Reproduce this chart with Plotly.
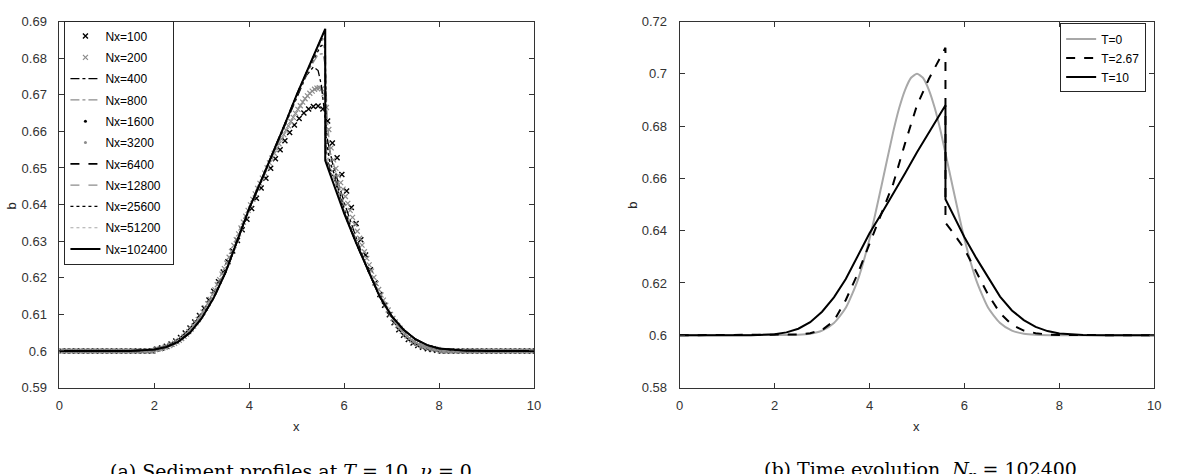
import plotly.graph_objects as go

W, H = 1191, 474

# ---------------- Left panel: sediment profiles at T=10 ----------------
# Nx=100 (cell centres) and its values
x100 = [round(0.05 + 0.1 * i, 3) for i in range(100)]
b100 = [0.6] * 20 + [
    0.6005, 0.6008, 0.6013, 0.6019, 0.6027, 0.6037, 0.6049, 0.6063, 0.6079, 0.6097,
    0.6117, 0.6139, 0.6163, 0.6189, 0.6216, 0.6244, 0.6273, 0.6302, 0.6331, 0.6360,
    0.6389, 0.6417, 0.6445, 0.6472, 0.6499, 0.6525, 0.6550, 0.6574, 0.6597, 0.6617,
    0.6635, 0.6650, 0.6661, 0.6668, 0.6669, 0.6661, 0.6628, 0.6568, 0.6528, 0.6482,
    0.6437, 0.6392, 0.6348, 0.6304, 0.6262, 0.6222, 0.6186, 0.6154, 0.6125, 0.6099,
    0.6077, 0.6058, 0.6043, 0.6031, 0.6022, 0.6015, 0.6010, 0.6006, 0.6004, 0.6002,
] + [0.6] * 20

# Nx=200
x200 = [round(0.025 + 0.05 * i, 4) for i in range(200)]
b200 = [0.6] * 40 + [
    0.6004, 0.6005, 0.6006, 0.6008, 0.6010, 0.6012, 0.6015, 0.6018, 0.6021, 0.6025,
    0.6029, 0.6034, 0.6040, 0.6046, 0.6053, 0.6060, 0.6068, 0.6077, 0.6086, 0.6096,
    0.6106, 0.6117, 0.6129, 0.6141, 0.6154, 0.6167, 0.6181, 0.6195, 0.6210, 0.6225,
    0.6240, 0.6256, 0.6272, 0.6288, 0.6304, 0.6320, 0.6336, 0.6352, 0.6368, 0.6384,
    0.6399, 0.6414, 0.6429, 0.6444, 0.6458, 0.6472, 0.6486, 0.6500, 0.6514, 0.6527,
    0.6540, 0.6553, 0.6566, 0.6579, 0.6591, 0.6603, 0.6615, 0.6627, 0.6638, 0.6649,
    0.6660, 0.6670, 0.6680, 0.6689, 0.6697, 0.6704, 0.6710, 0.6715, 0.6718, 0.6719,
    0.6716, 0.6702, 0.6665, 0.6605, 0.6555, 0.6522, 0.6499, 0.6479, 0.6460, 0.6442,
    0.6422, 0.6403, 0.6384, 0.6365, 0.6346, 0.6327, 0.6308, 0.6289, 0.6271, 0.6253,
    0.6235, 0.6218, 0.6201, 0.6184, 0.6168, 0.6153, 0.6139, 0.6125, 0.6112, 0.6100,
    0.6089, 0.6079, 0.6070, 0.6062, 0.6054, 0.6047, 0.6041, 0.6035, 0.6030, 0.6026,
    0.6022, 0.6018, 0.6015, 0.6013, 0.6011, 0.6009, 0.6007, 0.6006, 0.6005, 0.6004,
] + [0.6] * 40

# Shared rising foot and downstream tail for the finer grids
x_rise = [0.0, 1.5, 2.0, 2.25, 2.5, 2.75, 3.0, 3.25, 3.5, 3.75, 4.0, 4.25, 4.5]
b_rise = [0.6, 0.6, 0.6004, 0.6011, 0.6025, 0.6050, 0.6090, 0.6145, 0.6215,
          0.6300, 0.6390, 0.6465, 0.6540]
x_tail = [6.5, 6.75, 7.0, 7.25, 7.5, 7.75, 8.0, 8.25, 8.5, 9.0, 10.0]
b_tail = [0.6220, 0.6148, 0.6095, 0.6058, 0.6032, 0.6016, 0.6007, 0.6003,
          0.6001, 0.6, 0.6]

# Peak / shock region per grid
x_mid_400 = [4.75, 5.0, 5.2, 5.35, 5.45, 5.52, 5.58, 5.65, 5.75, 6.0, 6.25]
b_mid_400 = [0.6615, 0.6695, 0.6752, 0.6776, 0.6766, 0.6725, 0.6650, 0.6575,
             0.6515, 0.6405, 0.6310]
x_mid_800 = [4.75, 5.0, 5.25, 5.45, 5.55, 5.6, 5.64, 5.7, 5.8, 6.0, 6.25]
b_mid_800 = [0.6618, 0.6698, 0.6768, 0.6810, 0.6812, 0.6780, 0.6640, 0.6545,
             0.6500, 0.6395, 0.6302]
x_mid_1600 = [4.75, 5.0, 5.25, 5.5, 5.58, 5.6, 5.62, 5.7, 5.8, 6.0, 6.25]
b_mid_1600 = [0.6620, 0.6700, 0.6772, 0.6832, 0.6838, 0.6800, 0.6580, 0.6515,
              0.6480, 0.6385, 0.6298]
x_mid_3200 = [4.75, 5.0, 5.25, 5.5, 5.58, 5.6, 5.62, 5.7, 5.8, 6.0, 6.25]
b_mid_3200 = [0.6620, 0.6700, 0.6774, 0.6843, 0.6858, 0.6830, 0.6550, 0.6500,
              0.6475, 0.6380, 0.6296]
x_mid_6400 = [4.75, 5.0, 5.25, 5.5, 5.59, 5.6, 5.61, 5.7, 5.8, 6.0, 6.25]
b_mid_6400 = [0.6620, 0.6700, 0.6775, 0.6848, 0.6868, 0.6840, 0.6535, 0.6495,
              0.6472, 0.6378, 0.6295]
x_mid_12800 = [4.75, 5.0, 5.25, 5.5, 5.59, 5.6, 5.61, 5.7, 5.8, 6.0, 6.25]
b_mid_12800 = [0.6620, 0.6700, 0.6775, 0.6850, 0.6873, 0.6860, 0.6528, 0.6493,
               0.6470, 0.6376, 0.6295]
x_mid_25600 = [4.75, 5.0, 5.25, 5.5, 5.595, 5.6, 5.605, 5.7, 5.8, 6.0, 6.25]
b_mid_25600 = [0.6620, 0.6700, 0.6775, 0.6850, 0.6877, 0.6870, 0.6524, 0.6490,
               0.6468, 0.6376, 0.6295]
x_mid_51200 = [4.75, 5.0, 5.25, 5.5, 5.595, 5.6, 5.605, 5.7, 5.8, 6.0, 6.25]
b_mid_51200 = [0.6620, 0.6700, 0.6775, 0.6850, 0.6879, 0.6875, 0.6522, 0.6488,
               0.6466, 0.6375, 0.6295]
x_mid_102400 = [4.75, 5.0, 5.25, 5.5, 5.6, 5.6, 5.75, 6.0, 6.25]
b_mid_102400 = [0.6620, 0.6700, 0.6775, 0.6850, 0.6880, 0.6520, 0.6465,
                0.6375, 0.6295]

# ---------------- Right panel: time evolution ----------------
x_T0 = [0.0, 2.0, 2.5, 2.75, 3.0, 3.25, 3.5, 3.75, 4.0, 4.25, 4.5, 4.625, 4.75,
        4.875, 5.0, 5.125, 5.25, 5.375, 5.5, 5.75, 6.0, 6.25, 6.5, 6.75, 7.0,
        7.25, 7.5, 8.0, 10.0]
b_T0 = [0.6, 0.6001, 0.6002, 0.6006, 0.6018, 0.6047, 0.6105, 0.6210, 0.6368,
        0.6570, 0.6779, 0.6869, 0.6939, 0.6985, 0.7000, 0.6985, 0.6939, 0.6869,
        0.6779, 0.6570, 0.6368, 0.6210, 0.6105, 0.6047, 0.6018, 0.6006, 0.6002,
        0.6, 0.6]
x_T267 = [0.0, 2.5, 2.75, 3.0, 3.25, 3.5, 3.75, 4.0, 4.25, 4.5, 4.75, 5.0, 5.25,
          5.5, 5.6, 5.6, 5.75, 6.0, 6.25, 6.5, 6.75, 7.0, 7.25, 7.5, 7.75, 8.0,
          10.0]
b_T267 = [0.6, 0.6003, 0.6008, 0.6020, 0.6055, 0.6135, 0.6235, 0.6350, 0.6465,
          0.6580, 0.6735, 0.6880, 0.6980, 0.7070, 0.7100, 0.6430, 0.6395, 0.6330,
          0.6245, 0.6155, 0.6085, 0.6040, 0.6018, 0.6008, 0.6003, 0.6001, 0.6]

# Tick labels
xticks = [0, 2, 4, 6, 8, 10]
xtick_text = ["0", "2", "4", "6", "8", "10"]
yticks_l = [0.59, 0.6, 0.61, 0.62, 0.63, 0.64, 0.65, 0.66, 0.67, 0.68, 0.69]
ytick_text_l = ["0.59", "0.6", "0.61", "0.62", "0.63", "0.64", "0.65", "0.66",
                "0.67", "0.68", "0.69"]
yticks_r = [0.58, 0.6, 0.62, 0.64, 0.66, 0.68, 0.7, 0.72]
ytick_text_r = ["0.58", "0.6", "0.62", "0.64", "0.66", "0.68", "0.7", "0.72"]

BLACK = "#000000"
GRAY = "#8c8c8c"
LGRAY = "#a8a8a8"

fig = go.Figure()


def line_series(name, xm, bm, color, dash, width, legend_marker=False):
    xs = x_rise + xm + x_tail
    bs = b_rise + bm + b_tail
    if legend_marker:
        fig.add_trace(go.Scatter(x=xs, y=bs, mode="lines", showlegend=False,
                                 legendgroup=name,
                                 line=dict(color=color, dash="dot", width=width),
                                 xaxis="x", yaxis="y", hoverinfo="skip"))
        fig.add_trace(go.Scatter(x=[None], y=[None], mode="markers", name=name,
                                 legendgroup=name,
                                 marker=dict(color=color, size=3, symbol="circle"),
                                 xaxis="x", yaxis="y", legend="legend"))
    else:
        fig.add_trace(go.Scatter(x=xs, y=bs, mode="lines", name=name,
                                 legendgroup=name,
                                 line=dict(color=color, dash=dash, width=width),
                                 xaxis="x", yaxis="y", legend="legend"))


fig.add_trace(go.Scatter(x=x100, y=b100, mode="markers", name="Nx=100",
                         legendgroup="Nx=100",
                         marker=dict(symbol="x-thin", size=5, color=BLACK,
                                     line=dict(color=BLACK, width=1.4)),
                         xaxis="x", yaxis="y", legend="legend"))
fig.add_trace(go.Scatter(x=x200, y=b200, mode="markers", name="Nx=200",
                         legendgroup="Nx=200",
                         marker=dict(symbol="x-thin", size=5, color=GRAY,
                                     line=dict(color=GRAY, width=1.2)),
                         xaxis="x", yaxis="y", legend="legend"))
line_series("Nx=400", x_mid_400, b_mid_400, BLACK, "dashdot", 1.3)
line_series("Nx=800", x_mid_800, b_mid_800, GRAY, "dashdot", 1.3)
line_series("Nx=1600", x_mid_1600, b_mid_1600, BLACK, "dot", 1.5, True)
line_series("Nx=3200", x_mid_3200, b_mid_3200, GRAY, "dot", 1.5, True)
line_series("Nx=6400", x_mid_6400, b_mid_6400, BLACK, "dash", 1.6)
line_series("Nx=12800", x_mid_12800, b_mid_12800, GRAY, "dash", 1.3)
line_series("Nx=25600", x_mid_25600, b_mid_25600, BLACK, "dot", 1.2)
line_series("Nx=51200", x_mid_51200, b_mid_51200, LGRAY, "dot", 1.2)
line_series("Nx=102400", x_mid_102400, b_mid_102400, BLACK, "solid", 2.0)

# Right panel
fig.add_trace(go.Scatter(x=x_T0, y=b_T0, mode="lines", name="T=0",
                         line=dict(color=LGRAY, width=2, shape="spline", smoothing=0.6),
                         xaxis="x2", yaxis="y2", legend="legend2"))
fig.add_trace(go.Scatter(x=x_T267, y=b_T267, mode="lines", name="T=2.67",
                         line=dict(color=BLACK, width=2, dash="dash"),
                         xaxis="x2", yaxis="y2", legend="legend2"))
fig.add_trace(go.Scatter(x=x_rise + x_mid_102400 + x_tail,
                         y=b_rise + b_mid_102400 + b_tail, mode="lines", name="T=10",
                         line=dict(color=BLACK, width=2),
                         xaxis="x2", yaxis="y2", legend="legend2"))

AX = "#333333"
TICKFONT = dict(family="Liberation Sans, Arial, sans-serif", size=13, color="#333333")


def px_x(p):
    return p / W


def px_y(p):
    return 1 - p / H


common_x = dict(range=[0, 10], tickvals=xticks, ticktext=xtick_text, ticks="inside",
                ticklen=5, tickcolor=AX, showline=True, linecolor=AX, linewidth=1,
                mirror="ticks", showgrid=False, zeroline=False, tickfont=TICKFONT,
                ticklabelstandoff=6)
common_y = dict(ticks="inside", ticklen=5, tickcolor=AX, showline=True, linecolor=AX,
                linewidth=1, mirror="ticks", showgrid=False, zeroline=False,
                tickfont=TICKFONT, domain=[px_y(393), px_y(15)], ticklabelstandoff=9)

fig.update_layout(
    width=W, height=H, margin=dict(l=0, r=0, t=0, b=0),
    paper_bgcolor="white", plot_bgcolor="white",
    xaxis=dict(common_x, domain=[px_x(56), px_x(535)], anchor="y"),
    yaxis=dict(common_y, range=[0.59, 0.69], tickvals=yticks_l, ticktext=ytick_text_l,
               anchor="x"),
    xaxis2=dict(common_x, domain=[px_x(682), px_x(1161)], anchor="y2"),
    yaxis2=dict(common_y, range=[0.58, 0.72], tickvals=yticks_r, ticktext=ytick_text_r,
                anchor="x2"),
    legend=dict(x=px_x(61), y=px_y(14), xanchor="left", yanchor="top",
                bgcolor="white", bordercolor="#262626", borderwidth=1,
                font=dict(family="Liberation Sans, Arial, sans-serif", size=12,
                          color="black"),
                itemwidth=30, tracegroupgap=2.3),
    legend2=dict(x=px_x(1066), y=px_y(17), xanchor="left", yanchor="top",
                 bgcolor="white", bordercolor="#262626", borderwidth=1,
                 font=dict(family="Liberation Sans, Arial, sans-serif", size=12,
                           color="black"),
                 itemwidth=30),
    showlegend=True,
)

LABELFONT = dict(family="Liberation Sans, Arial, sans-serif", size=13, color="#262626")
CAPFONT = dict(family="DejaVu Serif, serif", size=19, color="black")
annots = [
    dict(x=px_x(295), y=px_y(433), text="x", font=LABELFONT),
    dict(x=px_x(921), y=px_y(433), text="x", font=LABELFONT),
    dict(x=px_x(8), y=px_y(205), text="b", font=LABELFONT, textangle=-90),
    dict(x=px_x(634), y=px_y(205), text="b", font=LABELFONT, textangle=-90),
    dict(x=px_x(290), y=px_y(479), text="(a) Sediment profiles at <i>T</i> = 10, <i>ν</i> = 0",
         font=CAPFONT),
    dict(x=px_x(925), y=px_y(479), text="(b) Time evolution, <i>N</i><sub>x</sub> = 102400",
         font=CAPFONT),
]
for a in annots:
    a.update(xref="paper", yref="paper", showarrow=False, xanchor="center",
             yanchor="middle")
    fig.add_annotation(**a)

fig.write_html("out.html")
